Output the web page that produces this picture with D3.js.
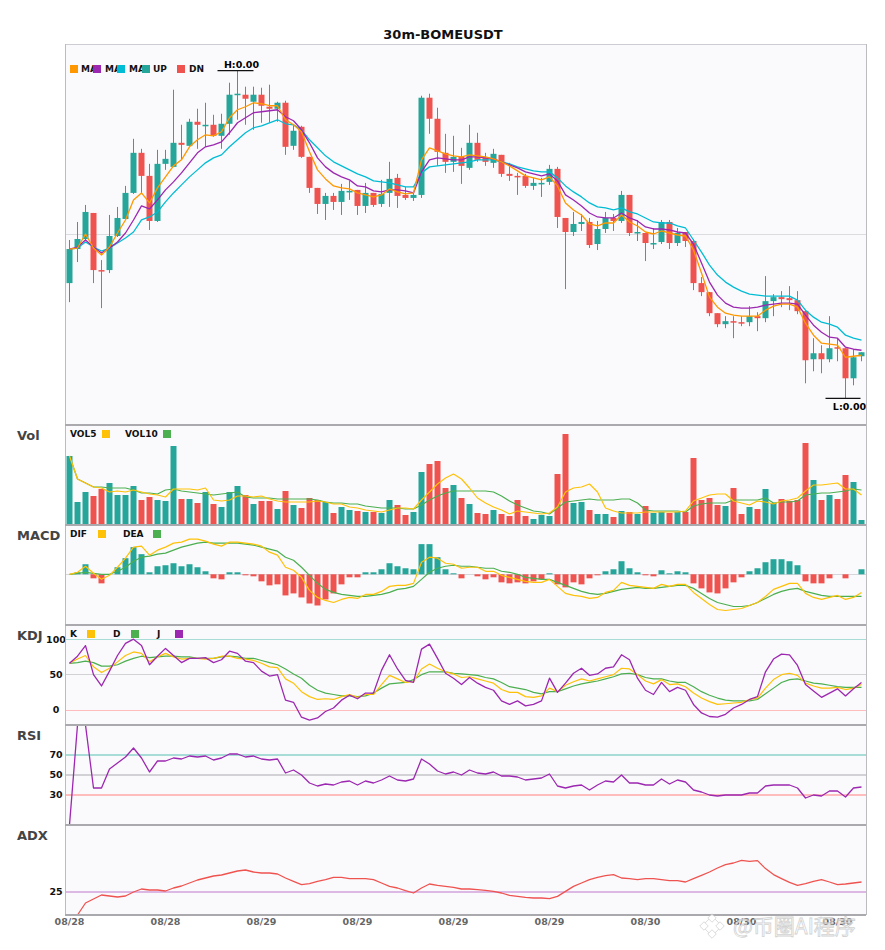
<!DOCTYPE html>
<html>
<head>
<meta charset="utf-8">
<script src="https://cdn.jsdelivr.net/npm/d3@7/dist/d3.min.js"></script>
<style>
  body { margin: 0; background: #fff; }
  svg { font-family: "DejaVu Sans", sans-serif; }
</style>
</head>
<body>
<svg id="chart" width="885" height="950"></svg>
<script>
// prices are stored in 1e-6 USDT
var openP = [717,751,761,787,730,730,764,781,807,847, 824,779,836,833,857,854,878,874,875,864,
  876,905,905,898,905,893,891,897,854,873, 843,812,796,804,798,808,810,794,807,796,
  807,822,805,802,805,902,881,847,838,843, 832,857,842,837,845,826,824,824,814,816,
  818,831,782,768,776,778,756,771,782,779, 805,767,767,756,758,778,757,768,759,717,
  708,687,676,679,678,678,684,682,699,703, 702,700,689,641,647,641,653,652,622,644];
var highP = [760,778,795,787,740,785,793,814,861,851, 836,850,850,910,875,881,891,897,885,886,
  917,929,913,913,912,915,898,899,875,874, 843,812,807,807,816,819,810,817,807,820,
  838,826,813,808,904,906,892,866,864,852, 875,867,847,851,845,837,827,826,822,822,
  835,833,782,788,786,782,779,788,786,809, 805,780,767,772,780,780,772,768,761,723,
  708,687,684,684,684,694,688,724,706,709, 714,709,690,662,655,684,662,652,651,648];
var lowP = [698,738,760,717,692,727,763,781,806,807, 770,778,830,833,840,854,851,853,863,851,
  865,880,875,870,877,877,878,845,850,842, 807,786,780,790,785,800,785,787,793,793,
  793,792,800,799,802,866,834,827,828,816, 830,838,834,832,823,819,805,812,810,803,
  815,772,711,764,769,752,750,767,769,777, 764,759,739,751,756,751,754,753,710,704,
  684,673,672,662,674,674,669,678,684,693, 690,686,617,629,627,638,639,602,615,639];
var closeP = [751,761,788,730,729,764,782,807,847,824, 779,836,841,857,855,878,875,875,864,876,
  905,906,901,905,894,891,897,853,869,843, 812,796,804,798,809,809,794,807,795,806,
  821,804,802,805,902,881,848,838,843,834, 857,840,838,846,826,824,823,814,817,817,
  831,783,768,776,778,755,771,782,779,805, 767,768,757,757,778,757,767,759,717,708,
  687,676,679,678,677,684,682,699,703,701, 700,689,640,647,641,652,652,622,643,648];

var ma5 = [751,752,766,752,745,753,767,780,800,807, 797,812,823,834,840,853,860,865,864,868,
  882,890,893,897,896,894,894,880,875,868, 848,830,821,814,812,811,807,805,803,805,
  811,808,806,807,840,852,849,846,844,843, 845,844,843,841,838,834,829,824,822,820,
  823,814,797,790,785,776,774,777,777,785, 778,774,768,766,769,767,765,764,750,727,
  703,693,687,685,684,684,684,690,694,696, 696,693,677,665,657,656,655,643,644,645];
var ma10 = [751,753,760,753,747,752,758,767,780,794, 791,800,810,818,827,837,847,853,855,858,
  867,877,882,887,888,889,890,883,879,870, 857,842,833,827,823,820,814,813,809,808,
  810,810,809,807,828,840,842,841,840,840, 843,843,842,841,838,835,832,828,826,824,
  826,819,805,800,794,787,783,782,782,787, 782,779,773,771,771,770,768,767,756,737,
  718,705,697,693,692,692,693,695,696,697, 697,696,685,675,668,663,662,653,651,650];
var ma20 = [751,752,758,753,749,752,757,762,768,780, 783,788,798,807,815,823,830,837,842,845,
  853,860,867,872,874,877,880,876,875,870, 860,852,844,838,834,830,826,823,819,818,
  817,815,813,813,827,833,834,835,836,837, 838,840,840,840,838,836,833,831,829,828,
  828,822,814,808,803,797,793,792,790,792, 788,786,782,778,777,777,774,772,760,748,
  735,725,718,713,709,706,705,704,704,704, 704,700,690,683,678,676,673,665,662,660];

var vol = [68,22,32,28,35,41,29,29,38,24, 27,24,23,78,25,25,21,32,20,17,
  32,38,29,20,23,23,15,33,19,16, 26,24,22,11,17,14,13,12,12,11,
  24,19,9,12,52,60,63,36,39,26, 20,11,10,14,10,8,24,8,5,9,
  8,50,90,21,22,14,10,10,7,13, 12,10,18,11,12,11,12,12,66,24,
  26,19,18,36,10,17,15,35,21,25, 23,24,81,44,24,29,25,49,42,4];
var vol5 = [68,45,41,37,36,32,33,32,34,32, 30,29,27,35,35,35,34,36,24,23,
  24,28,28,27,28,25,23,22,22,22, 22,23,22,20,20,17,16,14,13,12,
  14,16,16,15,24,32,40,46,50,45, 36,26,21,17,14,10,13,12,11,10,
  11,17,32,36,37,40,32,16,13,11, 11,11,12,12,12,12,12,13,23,26,
  29,30,30,23,21,19,23,22,20,23, 24,26,33,39,39,40,41,35,35,29];
var vol10 = [68,45,41,37,37,36,36,36,34,31, 31,30,34,35,33,32,31,30,29,30,
  31,32,27,26,26,26,25,25,25,25, 25,24,22,21,21,20,20,18,17,16,
  16,16,15,15,19,24,28,31,33,33, 33,33,33,32,28,23,19,16,13,12,
  10,16,22,23,24,25,24,24,24,25, 25,21,14,13,13,13,13,12,18,20,
  21,21,21,24,24,24,24,26,21,22, 22,23,29,30,31,31,32,33,35,34];

var macdHist = [0,2,10,-4,-9,0,7,16,27,20, 2,8,9,11,8,10,7,3,-4,-5,
  2,2,-1,-2,-7,-11,-10,-21,-19,-23, -29,-31,-25,-19,-10,-3,-3,2,2,5,
  11,8,6,5,30,30,17,5,1,-4, 0,-2,-5,-3,-8,-9,-8,-9,-7,-5,
  1,-10,-13,-8,-10,-4,-1,3,5,13, 6,2,-1,-2,4,1,3,2,-9,-14,
  -18,-19,-14,-8,-3,3,6,12,15,15, 13,9,-7,-9,-9,-4,0,-4,0,5];
var dif = [0,2,8,1,-5,-1,7,16,27,28, 19,24,27,31,32,35,35,33,30,28,
  32,32,31,30,28,22,19,7,4,-3, -16,-23,-26,-28,-25,-23,-24,-20,-20,-17,
  -12,-11,-11,-9,12,17,16,11,10,6, 7,7,3,3,-1,-3,-5,-7,-8,-8,
  -5,-12,-19,-21,-22,-24,-23,-18,-16,-8, -11,-12,-13,-14,-10,-12,-10,-10,-18,-24,
  -30,-35,-36,-35,-34,-31,-28,-22,-15,-12, -9,-9,-19,-23,-25,-23,-21,-25,-23,-18];
var dea = [0,1,2,1,0,0,3,7,13,17, 18,20,21,24,27,29,31,32,31,31,
  31,31,30,29,27,25,23,17,14,7, -1,-9,-15,-18,-20,-21,-22,-22,-21,-20,
  -18,-15,-14,-12,-5,2,6,8,9,8, 8,7,6,6,3,2,0,-3,-4,-5,
  -5,-8,-11,-14,-17,-19,-20,-19,-17,-15, -14,-13,-14,-14,-13,-12,-11,-11,-14,-19,
  -24,-28,-30,-32,-32,-31,-28,-24,-20,-17, -15,-14,-17,-19,-21,-22,-22,-22,-22,-22];

var kLine = [66,72,77,61,53,59,68,77,82,80, 68,75,80,75,72,73,73,72,73,76,
  76,73,72,70,66,61,60,44,38,26, 19,15,16,15,19,22,18,22,22,36,
  49,44,39,40,58,65,59,54,51,46, 47,44,41,38,29,25,25,19,18,20,
  31,26,35,40,44,41,44,47,50,59, 58,50,41,37,43,36,37,33,24,17,
  12,8,9,10,11,15,17,31,43,50, 52,49,38,34,31,31,32,29,31,36];
var dLine = [66,67,69,67,62,62,64,69,73,76, 74,75,76,76,75,75,73,73,73,75,
  76,75,73,73,70,67,64,58,51,45, 35,28,24,22,20,20,19,20,24,31,
  37,38,39,43,50,54,54,54,52,51, 50,49,46,44,39,33,31,29,25,23,
  26,26,30,34,37,39,41,44,47,51, 52,50,46,44,44,41,39,39,33,26,
  21,17,14,13,13,13,15,23,31,39, 43,44,41,38,37,35,33,32,32,32];
var jLine = [66,76,91,50,34,55,77,94,100,91, 64,76,87,77,67,73,73,74,67,71,
  83,80,69,67,55,48,50,14,11,-10, -14,-11,-2,3,14,21,16,24,24,56,
  78,58,42,39,86,93,73,52,45,36, 46,38,32,28,13,8,13,6,8,13,
  45,25,38,52,59,49,51,59,61,78, 71,45,28,22,39,26,32,28,8,-4,
  -9,-10,-6,3,8,15,19,54,72,79, 78,63,36,27,18,24,30,20,30,39];

var rsi = [0,100,100,37,37,56,62,68,77,67, 53,64,64,67,66,69,68,69,65,67,
  71,71,68,69,66,65,66,52,55,50, 42,39,41,40,43,44,40,44,42,45,
  49,45,44,46,66,61,54,51,53,50, 55,52,51,53,49,49,48,45,46,47,
  51,39,37,39,40,35,40,44,43,50, 42,42,40,40,46,41,45,43,35,33,
  30,29,30,30,30,32,32,39,40,40, 40,37,27,30,29,34,34,28,37,38];

var adx = [13.5,13.5,19.5,21.5,23.5,23,22.5,23,25,26.5, 26,26,25.5,27,28,29.5,31,32,33,33.5,
  34.5,35.5,36,35,34.5,34.5,34,32,30.3,28.7, 29.2,30.3,31.2,32.3,32.3,31.7,31.7,31.7,31.2,29.5,
  27.8,27,25.7,24.5,27,29,28.3,27.8,27.3,26.5, 26.5,26.2,25.8,25.3,24.5,23.3,22.8,22.3,22,22,
  21.7,22.8,25.3,27.8,29.5,31.2,32.3,33.2,33.7,32, 31.7,31.2,31.7,31.7,31.2,30.7,30.7,30,31.7,33.3,
  35,37,38.7,39.5,40.8,40.3,40.7,36.7,33.7,31.7, 29.8,28.3,29.2,30.3,31.2,30,28.7,29,29.5,30];

var timeLabels = ["08/28","08/28","08/29","08/29","08/29","08/29","08/30","08/30","08/30"];
var labelStep = 12;

var kdjTicks = [100, 50, 0];
var rsiTicks = [70, 50, 30];
var adxTicks = [25];

var COL = {
    up: "#26a69a", down: "#ef5350",
    ma5: "#ff9800", ma10: "#9c27b0", ma20: "#00bcd4",
    yellow: "#ffc107", green: "#4caf50", purple: "#9c27b0", adx: "#ef5350"
};

var svg = d3.select("#chart");
var defs = svg.append("defs");
var left = 65, right = 866;

var panels = [
    {key: "main", top: 44,  bottom: 425},
    {key: "vol",  top: 425, bottom: 525, label: "Vol"},
    {key: "macd", top: 525, bottom: 625, label: "MACD"},
    {key: "kdj",  top: 625, bottom: 725, label: "KDJ"},
    {key: "rsi",  top: 725, bottom: 825, label: "RSI"},
    {key: "adx",  top: 825, bottom: 915, label: "ADX"}
];
var P = {};
panels.forEach(function(p) { P[p.key] = p; });

var n = openP.length;
var x = d3.scaleBand()
    .domain(d3.range(n))
    .range([64.5, 865.5])
    .paddingInner(0.25)
    .paddingOuter(0.125);
var bw = x.bandwidth();
function cx(i) { return Math.round(x(i) + bw / 2) + 0.5; }

// title
svg.append("text")
    .attr("x", 443).attr("y", 39)
    .attr("text-anchor", "middle")
    .style("font", "bold 13px 'DejaVu Sans'")
    .style("fill", "#111")
    .text("30m-BOMEUSDT");

// panel backgrounds
svg.selectAll(".panelbg")
    .data(panels)
    .enter().append("rect")
    .attr("class", "panelbg")
    .attr("x", left).attr("y", function(d) { return d.top; })
    .attr("width", right - left)
    .attr("height", function(d) { return d.bottom - d.top; })
    .style("fill", "#fafafc");

// panel labels
svg.selectAll(".plabel")
    .data(panels.filter(function(d) { return d.label; }))
    .enter().append("text")
    .attr("class", "plabel")
    .attr("x", 17).attr("y", function(d) { return d.top + 15; })
    .style("font", "bold 13px 'DejaVu Sans'")
    .style("fill", "#444")
    .text(function(d) { return d.label; });

function hline(y, color, width) {
    svg.append("line")
        .attr("x1", left).attr("x2", right)
        .attr("y1", y).attr("y2", y)
        .style("stroke", color).style("stroke-width", width || 1)
        .style("shape-rendering", "crispEdges");
}

function drawLine(data, yScale, color, width) {
    var line = d3.line()
        .x(function(d, i) { return cx(i); })
        .y(function(d) { return yScale(d); });
    svg.append("path")
        .datum(data)
        .attr("d", line)
        .style("fill", "none")
        .style("stroke", color)
        .style("stroke-width", width || 1.3)
        .style("stroke-linejoin", "round");
}

// legend: each name is cut off where the next swatch starts (as the original does)
var legendId = 0;
function legend(items, y) {
    items.forEach(function(it, k) {
        var limit = k < items.length - 1 ? items[k + 1].sx : it.tx + 60;
        var id = "lgclip" + (legendId++);
        defs.append("clipPath").attr("id", id)
            .append("rect")
            .attr("x", it.tx - 1).attr("y", y - 12)
            .attr("width", limit - it.tx + 1).attr("height", 16);
        svg.append("text")
            .attr("x", it.tx).attr("y", y)
            .attr("clip-path", "url(#" + id + ")")
            .style("font", "bold 9px 'DejaVu Sans'")
            .style("fill", "#111")
            .text(it.name);
        svg.append("rect")
            .attr("x", it.sx).attr("y", y - 7)
            .attr("width", 8).attr("height", 8)
            .style("fill", it.color);
    });
}

// ---------- main candle panel ----------
var mh = P.main.bottom - P.main.top;
var y = d3.scaleLinear()
    .domain([d3.min(lowP), d3.max(highP)])
    .range([P.main.top + mh * 0.93, P.main.top + mh * 0.07]);

hline((P.main.top + P.main.bottom) / 2, "#dcdce0", 1);

var candles = svg.append("g").attr("class", "candles");
d3.range(n).forEach(function(i) {
    var up = closeP[i] >= openP[i];
    var c = up ? COL.up : COL.down;
    candles.append("line")
        .attr("x1", cx(i)).attr("x2", cx(i))
        .attr("y1", y(highP[i])).attr("y2", y(lowP[i]))
        .style("stroke", c).style("stroke-width", 1);
    var top = y(Math.max(openP[i], closeP[i]));
    var bot = y(Math.min(openP[i], closeP[i]));
    candles.append("rect")
        .attr("x", cx(i) - bw / 2).attr("y", top)
        .attr("width", bw).attr("height", Math.max(1.5, bot - top))
        .style("fill", c);
});

drawLine(ma20, y, COL.ma20, 1.3);
drawLine(ma10, y, COL.ma10, 1.3);
drawLine(ma5, y, COL.ma5, 1.3);

// high / low markers
var hi = d3.maxIndex(highP), lo = d3.minIndex(lowP);
svg.append("line")
    .attr("x1", cx(hi) - 20).attr("x2", cx(hi) + 16)
    .attr("y1", y(highP[hi])).attr("y2", y(highP[hi]))
    .style("stroke", "#111").style("stroke-width", 1.2);
svg.append("text")
    .attr("x", cx(hi) + 4).attr("y", y(highP[hi]) - 3)
    .attr("text-anchor", "middle")
    .style("font", "bold 9.5px 'DejaVu Sans'")
    .text("H:" + (highP[hi] / 1e6).toFixed(2));
svg.append("line")
    .attr("x1", cx(lo) - 20).attr("x2", cx(lo) + 15)
    .attr("y1", y(lowP[lo])).attr("y2", y(lowP[lo]))
    .style("stroke", "#111").style("stroke-width", 1.2);
svg.append("text")
    .attr("x", cx(lo) + 4).attr("y", y(lowP[lo]) + 12)
    .attr("text-anchor", "middle")
    .style("font", "bold 9.5px 'DejaVu Sans'")
    .text("L:" + (lowP[lo] / 1e6).toFixed(2));

legend([
    {name: "MA5",  tx: 81,  sx: 70,  color: COL.ma5},
    {name: "MA10", tx: 105, sx: 93,  color: COL.ma10},
    {name: "MA20", tx: 129, sx: 117, color: COL.ma20},
    {name: "UP",   tx: 153, sx: 142, color: COL.up},
    {name: "DN",   tx: 189, sx: 177, color: COL.down}
], P.main.top + 28);

// ---------- volume ----------
var yv = d3.scaleLinear()
    .domain([0, d3.max(vol) * 1.1])
    .range([P.vol.bottom - 1, P.vol.top]);
svg.append("g").selectAll("rect")
    .data(vol)
    .enter().append("rect")
    .attr("x", function(d, i) { return cx(i) - bw / 2; })
    .attr("y", function(d) { return yv(d); })
    .attr("width", bw)
    .attr("height", function(d) { return yv(0) - yv(d); })
    .style("fill", function(d, i) { return closeP[i] >= openP[i] ? COL.up : COL.down; });
drawLine(vol10, yv, COL.green, 1.2);
drawLine(vol5, yv, COL.yellow, 1.2);
legend([
    {name: "VOL5",  tx: 70,  sx: 102, color: COL.yellow},
    {name: "VOL10", tx: 125, sx: 163, color: COL.green}
], P.vol.top + 12);

// ---------- MACD ----------
var macdMin = d3.min([d3.min(dif), d3.min(dea), d3.min(macdHist)]);
var macdMax = d3.max([d3.max(dif), d3.max(dea), d3.max(macdHist)]);
var ym = d3.scaleLinear()
    .domain([macdMin * 1.4, macdMax * 1.4])
    .range([P.macd.bottom, P.macd.top]);
hline(ym(0), "#d6d6da", 1);
svg.append("g").selectAll("rect")
    .data(macdHist)
    .enter().append("rect")
    .attr("x", function(d, i) { return cx(i) - bw / 2; })
    .attr("y", function(d) { return Math.min(ym(d), ym(0)); })
    .attr("width", bw)
    .attr("height", function(d) { return Math.abs(ym(d) - ym(0)); })
    .style("fill", function(d) { return d >= 0 ? COL.up : COL.down; });
drawLine(dea, ym, COL.green, 1.2);
drawLine(dif, ym, COL.yellow, 1.2);
legend([
    {name: "DIF", tx: 70,  sx: 98,  color: COL.yellow},
    {name: "DEA", tx: 123, sx: 153, color: COL.green}
], P.macd.top + 12);

// ---------- KDJ ----------
var yk = d3.scaleLinear().domain([-21, 120]).range([P.kdj.bottom, P.kdj.top]);
var tickColors = {top: "#a8dcd6", mid: "#d2d2d6", low: "#ffbcbc"};
function tickLines(ticks, scale) {
    ticks.forEach(function(t, k) {
        var c = ticks.length === 1 ? "#dcb8e4" : (k === 0 ? tickColors.top : (k === 1 ? tickColors.mid : tickColors.low));
        hline(scale(t), c, 1.2);
        svg.append("text")
            .attr("x", 56).attr("y", scale(t))
            .attr("dy", "0.35em")
            .attr("text-anchor", "middle")
            .style("font", "bold 9.5px 'DejaVu Sans'")
            .style("fill", "#111")
            .text(t);
    });
}
tickLines(kdjTicks, yk);
drawLine(dLine, yk, COL.green, 1.2);
drawLine(kLine, yk, COL.yellow, 1.2);
drawLine(jLine, yk, COL.purple, 1.3);
legend([
    {name: "K", tx: 70,  sx: 87,  color: COL.yellow},
    {name: "D", tx: 113, sx: 131, color: COL.green},
    {name: "J", tx: 157, sx: 175, color: COL.purple}
], P.kdj.top + 12);

// ---------- RSI ----------
var yr = d3.scaleLinear().domain([0, 100]).range([P.rsi.bottom, P.rsi.top]);
tickLines(rsiTicks, yr);
drawLine(rsi, yr, COL.purple, 1.3);

// ---------- ADX ----------
var ya = d3.scaleLinear().domain([d3.min(adx), d3.min(adx) + 45]).range([P.adx.bottom, P.adx.top]);
tickLines(adxTicks, ya);
drawLine(adx, ya, COL.adx, 1.3);

// frames and separators
svg.append("line").attr("x1", left).attr("x2", right).attr("y1", P.main.top + 0.5).attr("y2", P.main.top + 0.5)
    .style("stroke", "#ccccd2");
svg.append("line").attr("x1", left + 0.5).attr("x2", left + 0.5).attr("y1", P.main.top).attr("y2", P.adx.bottom)
    .style("stroke", "#bbbbc0");
svg.append("line").attr("x1", right + 0.5).attr("x2", right + 0.5).attr("y1", P.main.top).attr("y2", P.adx.bottom)
    .style("stroke", "#bbbbc0");
panels.forEach(function(p) {
    if (p.key !== "main") hline(p.top, "#a9a9ae", 1.5);
});
hline(P.adx.bottom, "#a9a9ae", 1.5);

// time axis
svg.selectAll(".tlabel")
    .data(timeLabels)
    .enter().append("text")
    .attr("class", "tlabel")
    .attr("x", function(d, k) { return cx(k * labelStep); })
    .attr("y", 925)
    .attr("text-anchor", "middle")
    .style("font", "bold 9.5px 'DejaVu Sans'")
    .style("fill", "#666")
    .text(function(d) { return d; });

// watermark (logo + text), semi transparent over the axis
var wm = svg.append("g").style("opacity", 0.75);
[[712, 926, 7], [704, 926, 3], [720, 926, 3], [712, 918, 3], [712, 934, 3]].forEach(function(d) {
    wm.append("rect")
        .attr("x", d[0] - d[2]).attr("y", d[1] - d[2])
        .attr("width", d[2] * 2).attr("height", d[2] * 2)
        .attr("transform", "rotate(45," + d[0] + "," + d[1] + ")")
        .style("fill", "#fff").style("stroke", "#c8c8c8").style("stroke-width", 0.8);
});
wm.append("text")
    .attr("x", 733).attr("y", 934)
    .style("font", "21px 'Noto Sans CJK SC'")
    .style("fill", "#fff")
    .style("stroke", "#c4c4c4")
    .style("stroke-width", 0.8)
    .text("@币圈AI程序");
</script>
</body>
</html>
